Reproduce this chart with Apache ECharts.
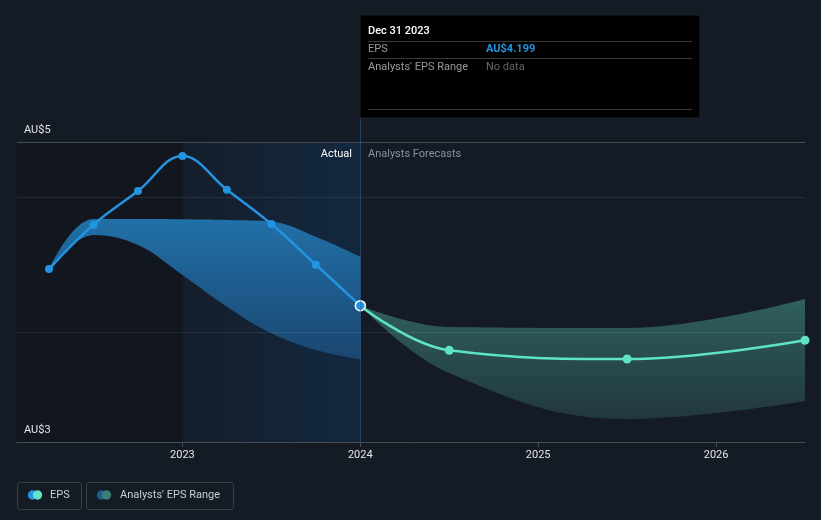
<!DOCTYPE html>
<html><head><meta charset="utf-8">
<script src="https://cdn.jsdelivr.net/npm/echarts@6/dist/echarts.min.js"></script>
<style>html,body{margin:0;padding:0;background:#151b25;}#c{width:821px;height:520px;}</style>
</head><body><div id="c"></div>
<script>
// ---- data (decimal years, AU$ EPS) ----
const actualX = [2022.25, 2022.5, 2022.75, 2023.0, 2023.25, 2023.5, 2023.75, 2024.0];
const actualEPS = [4.153, 4.449, 4.673, 4.907, 4.682, 4.453, 4.182, 3.909];
const pastRangeHigh = [4.153, 4.487, 4.487, 4.485, 4.48, 4.469, 4.369, 4.235];
const pastRangeLow = [4.153, 4.38, 4.313, 4.113, 3.902, 3.725, 3.613, 3.551];
const forecastX = [2024.0, 2024.5, 2025.5, 2026.5];
const forecastEPS = [3.909, 3.611, 3.553, 3.678];
const forecastHigh = [3.909, 3.767, 3.76, 3.953];
const forecastLow = [3.909, 3.46, 3.153, 3.273];
const yearTicks = [2023, 2024, 2025, 2026];
const yLabelValues = [3, 5];
const gridValues = [5, 4.633, 3.727];
const xMin = 2022.07, xMax = 2026.5;
const splitYear = 2024.0;

const FONT = 'Roboto, "Noto Sans", sans-serif';
const chart = echarts.init(document.getElementById('c'), null, {renderer: 'canvas'});

const pair = (xs, ys) => xs.map((x, i) => [x, ys[i]]);
// stacked series: value first so the stack sums the y dimension
const vFirst = (xs, ys) => xs.map((x, i) => [ys[i], x]);
const vFirstDiff = (xs, hi, lo) => xs.map((x, i) => [+(hi[i] - lo[i]).toFixed(4), x]);

function txt(x, y, text, fill, size, align, weight) {
  return {type: 'text', silent: true, z: 100, style: {
    x: x, y: y, text: text, fill: fill,
    font: (weight || 'normal') + ' ' + size + 'px ' + FONT,
    align: align || 'left', verticalAlign: 'middle',
    textAlign: align || 'left', textVerticalAlign: 'middle'
  }};
}

const lastIdx = actualX.length - 1;
const bandCommon = {type: 'line', smooth: 0.4, symbol: 'none', lineStyle: {opacity: 0}, z: 1, silent: true,
  encode: {x: 1, y: 0}};
const option = {
  backgroundColor: '#151b25',
  animation: false,
  grid: {left: 17, right: 16, top: 142, bottom: 78},
  xAxis: {
    type: 'value', min: xMin, max: xMax,
    splitLine: {show: false},
    axisLine: {show: true, lineStyle: {color: '#474c55', width: 1}},
    axisTick: {show: true, customValues: yearTicks, length: 5, lineStyle: {color: '#474c55'}},
    axisLabel: {customValues: yearTicks, formatter: v => String(Math.round(v)), color: '#e4e6ea',
      fontSize: 11, fontFamily: FONT, margin: 8}
  },
  yAxis: {
    type: 'value', min: 3, max: 5,
    splitLine: {show: false}, axisLine: {show: false}, axisTick: {show: false},
    axisLabel: {customValues: yLabelValues, inside: true, margin: 7, formatter: v => 'AU$' + v,
      color: '#e4e6ea', fontSize: 11, fontFamily: FONT, verticalAlign: 'bottom', padding: [0, 0, 6, 0]}
  },
  series: [
    { // background shading
      type: 'line', data: [], z: 0, silent: true,
      markArea: {silent: true, z: 0, data: [
        [{xAxis: xMin, itemStyle: {color: 'rgba(0,0,0,0.14)'}}, {xAxis: 2023}],
        [{xAxis: 2023, itemStyle: {color: new echarts.graphic.LinearGradient(0, 0, 1, 0, [
          {offset: 0, color: 'rgba(20,44,70,0.15)'}, {offset: 1, color: 'rgba(17,42,68,0.85)'}])}}, {xAxis: splitYear}]
      ]}
    },
    Object.assign({}, bandCommon, {name: 'pastLow', stack: 'past', data: vFirst(actualX, pastRangeLow)}),
    Object.assign({}, bandCommon, {name: 'pastBand', stack: 'past', data: vFirstDiff(actualX, pastRangeHigh, pastRangeLow),
      areaStyle: {opacity: 1, color: new echarts.graphic.LinearGradient(0, 0, 0, 1, [
        {offset: 0, color: '#2170a8'}, {offset: 1, color: '#1a4670'}])}}),
    Object.assign({}, bandCommon, {name: 'fcLow', stack: 'fc', data: vFirst(forecastX, forecastLow)}),
    Object.assign({}, bandCommon, {name: 'fcBand', stack: 'fc', data: vFirstDiff(forecastX, forecastHigh, forecastLow),
      areaStyle: {opacity: 1, color: new echarts.graphic.LinearGradient(0, 0, 0, 1, [
        {offset: 0, color: '#30605e'}, {offset: 1, color: '#21373e'}])}}),
    { // gridlines on top of bands
      type: 'line', data: [], z: 2, silent: true,
      markLine: {silent: true, z: 2, symbol: 'none', label: {show: false},
        data: gridValues.map((v, i) => ({yAxis: v, lineStyle: {color: i === 0 ? '#464b54' : 'rgba(255,255,255,0.08)', width: 1, type: 'solid'}}))}
    },
    {type: 'line', name: 'EPS', data: pair(forecastX, forecastEPS), smooth: 0.4, z: 3,
      symbol: 'circle', symbolSize: (v, p) => p.dataIndex === 0 ? 0 : 9,
      lineStyle: {color: '#5ee3c9', width: 2.5}, itemStyle: {color: '#5ee3c9'}},
    {type: 'line', name: 'EPS actual', smooth: 0.4, z: 4,
      symbol: 'circle', symbolSize: (v, p) => p.dataIndex === lastIdx ? 10 : 8,
      lineStyle: {color: '#2394df', width: 2.5},
      itemStyle: {color: '#2394df'},
      data: pair(actualX, actualEPS).map((d, i) => i === lastIdx ?
        {value: d, itemStyle: {borderColor: '#ffffff', borderWidth: 1.5}} : {value: d})}
  ],
  graphic: [
    {type: 'line', silent: true, z: 50, shape: {x1: 360.5, y1: 118, x2: 360.5, y2: 442},
      style: {stroke: 'rgba(50,100,150,0.55)', lineWidth: 1}},
    txt(352, 154, 'Actual', '#ffffff', 11, 'right'),
    txt(368, 154, 'Analysts Forecasts', '#8b919a', 11, 'left'),
    // tooltip box
    {type: 'rect', silent: true, z: 90, shape: {x: 360, y: 15, width: 340, height: 103},
      style: {fill: '#000000', stroke: '#1b222c', lineWidth: 1}},
    txt(368, 31, 'Dec 31 2023', '#ffffff', 11, 'left', '500'),
    {type: 'line', silent: true, z: 100, shape: {x1: 368, y1: 41.5, x2: 692, y2: 41.5}, style: {stroke: '#3a3a3a', lineWidth: 1}},
    txt(368, 49, 'EPS', '#9a9a9a', 11, 'left'),
    txt(486, 49, 'AU$4.199', '#2394df', 11, 'left', 'bold'),
    {type: 'line', silent: true, z: 100, shape: {x1: 368, y1: 58.5, x2: 692, y2: 58.5}, style: {stroke: '#3a3a3a', lineWidth: 1}},
    txt(368, 67, "Analysts' EPS Range", '#9a9a9a', 11, 'left'),
    txt(486, 67, 'No data', '#666666', 11, 'left'),
    {type: 'line', silent: true, z: 100, shape: {x1: 368, y1: 109.5, x2: 692, y2: 109.5}, style: {stroke: '#3a3a3a', lineWidth: 1}},
    // legend
    {type: 'rect', silent: true, z: 100, shape: {x: 17.5, y: 482.5, width: 64, height: 27, r: 3},
      style: {fill: 'none', stroke: '#3c414a', lineWidth: 1}},
    {type: 'circle', silent: true, z: 100, shape: {cx: 32.5, cy: 495, r: 4.7}, style: {fill: '#2394df'}},
    {type: 'circle', silent: true, z: 101, shape: {cx: 37.5, cy: 495, r: 4.7}, style: {fill: '#5ee3c9'}},
    txt(50, 495.5, 'EPS', '#c9cdd3', 11, 'left'),
    {type: 'rect', silent: true, z: 100, shape: {x: 86.5, y: 482.5, width: 147, height: 27, r: 3},
      style: {fill: 'none', stroke: '#3c414a', lineWidth: 1}},
    {type: 'circle', silent: true, z: 100, shape: {cx: 101.5, cy: 495, r: 4.7}, style: {fill: '#1d5e8f'}},
    {type: 'circle', silent: true, z: 101, shape: {cx: 106.5, cy: 495, r: 4.7}, style: {fill: '#3e7e79'}},
    txt(120, 495.5, "Analysts' EPS Range", '#c9cdd3', 11, 'left')
  ]
};
chart.setOption(option);
</script>
</body></html>
